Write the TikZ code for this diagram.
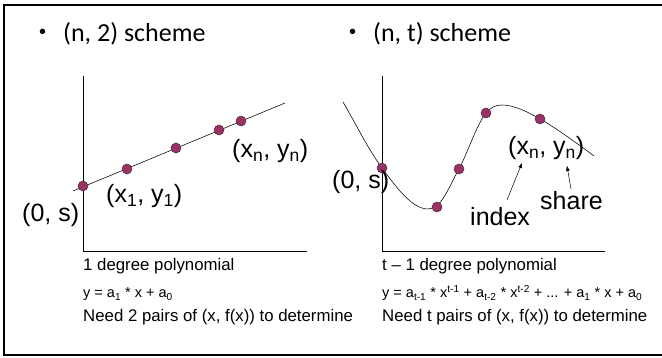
\documentclass[tikz,border=0pt]{standalone}
\usepackage{fontspec}
\setmainfont{Liberation Sans}
\newfontfamily\calibri{Carlito}
\usetikzlibrary{arrows.meta, positioning, backgrounds}
\definecolor{dotcol}{HTML}{993366}
\definecolor{dotrim}{HTML}{4A2A3A}

\begin{document}
\begin{tikzpicture}[
        x=1pt, y=-1pt,
        %% Grid: 1 unit = 1 px of the 662x358 slide, y grows downward.
        dot/.style={circle, draw=dotrim, line width=0.5pt, fill=dotcol, minimum size=10pt, inner sep=0pt},
        axis/.style={line width=0.8pt},
        curve/.style={line width=0.55pt},
        frame/.style={line width=2pt},
        headline/.style={font=\calibri\fontsize{26}{30}\selectfont, anchor=base west, inner sep=0pt},
        ptlabel/.style={font=\fontsize{25}{30}\selectfont, anchor=base west, inner sep=0pt},
        caption/.style={font=\fontsize{16.8}{20}\selectfont, anchor=base west, inner sep=0pt},
        eqn/.style={font=\fontsize{14.5}{17}\selectfont, anchor=base west, inner sep=0pt},
        pointer/.style={-{Triangle[length=5pt, width=3.5pt]}, line width=0.5pt}
    ]
    \useasboundingbox (0,0) rectangle (662,358);
    \newcommand{\slidebullet}{\makebox[24pt][l]{\raisebox{3pt}{\rmfamily\fontsize{20}{20}\selectfont •}}}

    %% --- Slide frame (open on the right) ---
    \draw[frame] (662,5) -- (4,5) -- (4,355) -- (662,355);

    %% --- Headlines ---
    \node[headline] (head2) at (39,42)  {\slidebullet(n, 2) scheme};
    \node[headline] (headt) at (349,42) {\slidebullet(n, t) scheme};

    %% --- Left: (n, 2) scheme, straight line ---
    \coordinate (lorig) at (83,251);
    \draw[axis] (83,76) -- (lorig) -- (307,251);
    \coordinate (lstart) at (73,191);
    \coordinate (lend)   at (285,103);
    \draw[curve] (lstart) -- (lend);

    \node[dot] (l0) at (83,186) {};
    \node[dot] (l1) at (127,169) {};
    \node[dot] (l2) at (176,148) {};
    \node[dot] (l3) at (219,130) {};
    \node[dot] (l4) at (241,121) {};

    \node[ptlabel] (ls)  at (22,222)  {(0, s)};
    \node[ptlabel] (lx1) at (106,203) {(x\textsubscript{1}, y\textsubscript{1})};
    \node[ptlabel] (lxn) at (232,158) {(x\textsubscript{n}, y\textsubscript{n})};

    \node[caption] (ldeg)  at (83,271) {1 degree polynomial};
    \node[eqn]     (leq)   at (83,298) {y = a\textsubscript{1} * x + a\textsubscript{0}};
    \node[caption] (lneed) at (83,322) {Need 2 pairs of (x, f(x)) to determine};

    %% --- Right: (n, t) scheme, curve of degree t-1 ---
    \coordinate (rorig) at (382,251);
    \draw[axis] (382,76) -- (rorig) -- (605,251);

    \node[dot] (r0) at (382,168) {};
    \node[dot] (r1) at (437,207) {};
    \node[dot] (r2) at (459,169) {};
    \node[dot] (r3) at (486,113) {};
    \node[dot] (r4) at (540,119) {};

    \coordinate (cstart) at (343,102);
    \coordinate (clow)   at (428,209);
    \coordinate (chigh)  at (502,105);
    \coordinate (cend)   at (594,156);
    \begin{scope}[on background layer]
    \draw[curve] (cstart) .. controls (356,124) and (368,149) .. (r0.center)
        .. controls (396,187) and (412,209) .. (clow)
        .. controls (442,209) and (449,186) .. (r2.center)
        .. controls (468,152) and (476,126) .. (r3.center)
        .. controls (491,107) and (496,105) .. (chigh)
        .. controls (514,105) and (528,112) .. (r4.center)
        .. controls (556,128) and (578,144) .. (cend);
    \end{scope}

    \node[ptlabel] (rs)  at (332,189) {(0, s)};
    \node[ptlabel] (rxn) at (508,155) {(x\textsubscript{n}, y\textsubscript{n})};
    \node[ptlabel] (idx) at (470,226) {index};
    \node[ptlabel] (shr) at (540,210) {share};

    %% --- Pointers from the words up to the pair ---
    \coordinate (idxtail) at (507,200);
    \coordinate (idxtip)  at (522,163);
    \coordinate (shrtail) at (571,189);
    \coordinate (shrtip)  at (567,166);
    \draw[pointer] (idxtail) -- (idxtip);
    \draw[pointer] (shrtail) -- (shrtip);

    \node[caption] (rdeg)  at (382,271) {t – 1 degree polynomial};
    \node[eqn]     (req)   at (382,298) {y = a\textsubscript{t-1} * x\textsuperscript{t-1} + a\textsubscript{t-2} * x\textsuperscript{t-2} + ... + a\textsubscript{1} * x + a\textsubscript{0}};
    \node[caption] (rneed) at (382,322) {Need t pairs of (x, f(x)) to determine};
\end{tikzpicture}
\end{document}
